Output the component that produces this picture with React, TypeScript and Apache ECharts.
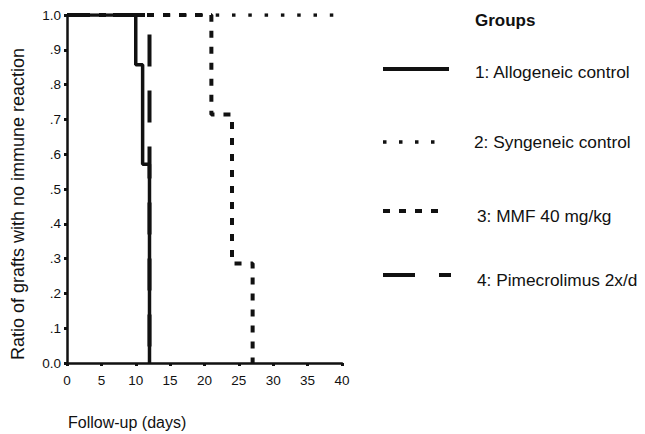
import React, { useEffect, useRef } from "react";
import * as echarts from "echarts";

// Kaplan-Meier style step data (days, ratio)
const groupNames = [
  "1: Allogeneic control",
  "2: Syngeneic control",
  "3: MMF 40 mg/kg",
  "4: Pimecrolimus 2x/d",
];
const alloDays = [0, 10, 11, 12];
const alloRatio = [1, 0.857, 0.571, 0];
const syngDays = [0, 40.8];
const syngRatio = [1, 1];
const mmfDays = [0, 21, 24, 27];
const mmfRatio = [1, 0.714, 0.286, 0];
const pimeDays = [0, 12];
const pimeRatio = [1, 0];

const xTicks = [0, 5, 10, 15, 20, 25, 30, 35, 40];
const yTickLabels: Record<string, string> = {
  "0": "0.0", "0.1": ".1", "0.2": ".2", "0.3": ".3", "0.4": ".4",
  "0.5": ".5", "0.6": ".6", "0.7": ".7", "0.8": ".8", "0.9": ".9", "1": "1.0",
};

const FONT = "'Liberation Sans', Arial, sans-serif";
const INK = "#111";

const zip = (xs: number[], ys: number[]) => xs.map((x, i) => [x, ys[i]]);

export default function App() {
  const ref = useRef<HTMLDivElement>(null);
  useEffect(() => {
    if (!ref.current) return;
    const chart = echarts.init(ref.current, null, { renderer: "svg" });
    const legendRows = [
      { y: 69, ty: 72, tx: 475, x2: 449, dash: null as any, w: 4 },
      { y: 142, ty: 142, tx: 474, x2: 436, dash: [3.5, 12.5], w: 3.5 },
      { y: 211, ty: 216, tx: 477, x2: 439, dash: [7, 9], w: 4 },
      { y: 275, ty: 280, tx: 477, x2: 451, dash: [32, 24, 12, 100], w: 4 },
    ];
    const graphic: any[] = [
      {
        type: "text",
        x: 18,
        y: 204,
        rotation: Math.PI / 2,
        style: {
          text: "Ratio of grafts with no immune reaction",
          font: `18px ${FONT}`,
          fill: INK,
          textAlign: "center",
          textVerticalAlign: "middle",
        },
      },
      {
        type: "text",
        x: 68,
        y: 422,
        style: {
          text: "Follow-up (days)",
          font: `16px ${FONT}`,
          fill: INK,
          textAlign: "left",
          textVerticalAlign: "middle",
        },
      },
      {
        type: "text",
        x: 475,
        y: 20,
        style: {
          text: "Groups",
          font: `bold 17px ${FONT}`,
          fill: INK,
          textAlign: "left",
          textVerticalAlign: "middle",
        },
      },
    ];
    legendRows.forEach((r, i) => {
      graphic.push({
        type: "line",
        shape: { x1: 383, y1: r.y, x2: r.x2, y2: r.y },
        style: { stroke: INK, lineWidth: r.w, lineDash: r.dash || undefined },
      });
      graphic.push({
        type: "text",
        x: r.tx,
        y: r.ty,
        style: {
          text: groupNames[i],
          font: `17.3px ${FONT}`,
          fill: INK,
          textAlign: "left",
          textVerticalAlign: "middle",
        },
      });
    });

    chart.setOption({
      animation: false,
      grid: { left: 67, right: 303, top: 15, bottom: 71, containLabel: false },
      xAxis: {
        type: "value",
        min: 0,
        max: 40,
        interval: 5,
        axisLine: { show: true, lineStyle: { color: INK, width: 2.5 } },
        axisTick: { show: true, length: 3, lineStyle: { color: INK, width: 3 } },
        axisLabel: {
          color: INK,
          fontSize: 13.5,
          fontFamily: FONT,
          margin: 10,
          formatter: (v: number) => (xTicks.includes(v) ? String(v) : ""),
        },
        splitLine: { show: false },
      },
      yAxis: {
        type: "value",
        min: 0,
        max: 1,
        interval: 0.1,
        axisLine: { show: true, lineStyle: { color: INK, width: 2.5 } },
        axisTick: { show: true, length: 3, lineStyle: { color: INK, width: 3 } },
        axisLabel: {
          color: INK,
          fontSize: 13.5,
          fontFamily: FONT,
          margin: 6,
          formatter: (v: number) => yTickLabels[String(Math.round(v * 10) / 10)] ?? "",
        },
        splitLine: { show: false },
      },
      series: [
        {
          name: groupNames[1],
          type: "line",
          step: "end",
          data: zip(syngDays, syngRatio),
          showSymbol: false,
          lineStyle: { color: INK, width: 3.5, type: [3.5, 12.8], dashOffset: -2 },
          z: 2,
        },
        {
          name: groupNames[2],
          type: "line",
          step: "end",
          data: zip(mmfDays, mmfRatio),
          showSymbol: false,
          lineStyle: { color: INK, width: 4, type: [7, 9] },
          z: 3,
        },
        {
          name: groupNames[3],
          type: "line",
          step: "end",
          data: zip(pimeDays, pimeRatio),
          showSymbol: false,
          lineStyle: { color: INK, width: 4, type: [32, 24], dashOffset: 10 },
          z: 4,
        },
        {
          name: groupNames[0],
          type: "line",
          step: "end",
          data: zip(alloDays, alloRatio),
          showSymbol: false,
          lineStyle: { color: INK, width: 3.5, type: "solid" },
          z: 5,
        },
      ],
      graphic,
    });
    return () => chart.dispose();
  }, []);
  return (
    <div
      ref={ref}
      style={{ position: "fixed", left: 0, top: 0, width: 645, height: 434, background: "#fff" }}
    />
  );
}
